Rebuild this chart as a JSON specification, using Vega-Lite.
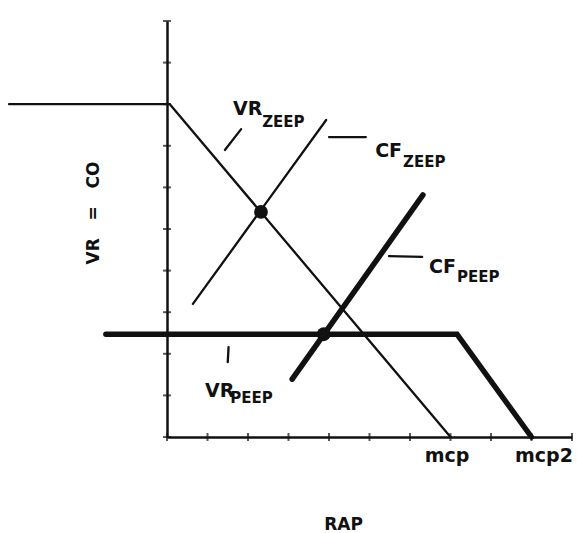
{
  "$schema": "https://vega.github.io/schema/vega-lite/v6.json",
  "autosize": "none",
  "padding": {"left": 167, "top": 21, "right": 5, "bottom": 96},
  "width": 405,
  "height": 416,
  "background": "white",
  "config": {"view": {"stroke": null}, "font": "DejaVu Sans"},
  "datasets": {
    "lines": [
      {"series": "VR_ZEEP", "i": 0, "x": -3.9, "y": 8},
      {"series": "VR_ZEEP", "i": 1, "x": 0.07, "y": 8},
      {"series": "VR_ZEEP", "i": 2, "x": 7, "y": 0},
      {"series": "CF_ZEEP", "i": 0, "x": 0.64, "y": 3.2},
      {"series": "CF_ZEEP", "i": 1, "x": 3.93, "y": 7.62},
      {"series": "VR_PEEP", "i": 0, "x": -1.51, "y": 2.47},
      {"series": "VR_PEEP", "i": 1, "x": 7.16, "y": 2.47},
      {"series": "VR_PEEP", "i": 2, "x": 9, "y": 0},
      {"series": "CF_PEEP", "i": 0, "x": 3.09, "y": 1.39},
      {"series": "CF_PEEP", "i": 1, "x": 6.32, "y": 5.82},
      {"series": "lead_VR_ZEEP", "i": 0, "x": 1.43, "y": 6.9},
      {"series": "lead_VR_ZEEP", "i": 1, "x": 1.83, "y": 7.4},
      {"series": "lead_CF_ZEEP", "i": 0, "x": 4.0, "y": 7.21},
      {"series": "lead_CF_ZEEP", "i": 1, "x": 4.91, "y": 7.21},
      {"series": "lead_CF_PEEP", "i": 0, "x": 5.48, "y": 4.35},
      {"series": "lead_CF_PEEP", "i": 1, "x": 6.3, "y": 4.33},
      {"series": "lead_VR_PEEP", "i": 0, "x": 1.52, "y": 2.16},
      {"series": "lead_VR_PEEP", "i": 1, "x": 1.5, "y": 1.8}
    ],
    "dots": [
      {"x": 2.32, "y": 5.41},
      {"x": 3.87, "y": 2.47}
    ],
    "ticks": [
      {"t": 0}, {"t": 1}, {"t": 2}, {"t": 3}, {"t": 4}, {"t": 5},
      {"t": 6}, {"t": 7}, {"t": 8}, {"t": 9}, {"t": 10}
    ],
    "labels": [
      {"text": "VR", "role": "main", "x": 1.63, "y": 7.74},
      {"text": "ZEEP", "role": "sub", "x": 2.35, "y": 7.45},
      {"text": "CF", "role": "main", "x": 5.14, "y": 6.73},
      {"text": "ZEEP", "role": "sub", "x": 5.83, "y": 6.49},
      {"text": "CF", "role": "main", "x": 6.47, "y": 3.94},
      {"text": "PEEP", "role": "sub", "x": 7.16, "y": 3.73},
      {"text": "VR", "role": "main", "x": 0.94, "y": 0.96},
      {"text": "PEEP", "role": "sub", "x": 1.56, "y": 0.82}
    ]
  },
  "layer": [
    {
      "data": {"name": "ticks"},
      "mark": {"type": "tick", "orient": "vertical", "size": 8, "thickness": 2, "color": "#111"},
      "encoding": {
        "x": {
          "field": "t", "type": "quantitative",
          "scale": {"domain": [0, 10], "nice": false, "zero": false},
          "axis": {
            "values": [7, 9],
            "domain": true, "domainColor": "#111", "domainWidth": 2.5,
            "ticks": false, "grid": false,
            "labelExpr": "datum.value == 7 ? 'mcp' : 'mcp2'",
            "labelFont": "DejaVu Sans", "labelFontWeight": "bold", "labelFontSize": 19,
            "labelColor": "#111", "labelBaseline": "alphabetic", "labelPadding": 24,
            "labelBound": false, "labelOverlap": false, "labelFlush": false,
            "labelOffset": {"condition": {"test": "datum.value == 9", "value": 12}, "value": -4},
            "title": "RAP", "titleFont": "DejaVu Sans", "titleFontWeight": "bold", "titleFontSize": 17,
            "titleColor": "#111", "titleX": 176, "titleY": 92, "titleAlign": "center", "titleBaseline": "alphabetic"
          }
        },
        "y": {
          "datum": 0, "type": "quantitative",
          "scale": {"domain": [0, 10], "nice": false, "zero": false},
          "axis": {
            "domain": true, "domainColor": "#111", "domainWidth": 2.5,
            "ticks": false, "labels": false, "grid": false,
            "title": "VR\u00a0\u00a0\u00a0=\u00a0\u00a0\u00a0CO",
            "titleFont": "DejaVu Sans", "titleFontWeight": "bold", "titleFontSize": 17,
            "titleColor": "#111", "titleX": -69, "titleY": 191.5, "titleAngle": 270,
            "titleAlign": "center", "titleBaseline": "alphabetic"
          }
        }
      }
    },
    {
      "data": {"name": "ticks"},
      "mark": {"type": "tick", "orient": "horizontal", "size": 8, "thickness": 2, "color": "#111"},
      "encoding": {
        "x": {"datum": 0, "type": "quantitative"},
        "y": {"field": "t", "type": "quantitative"}
      }
    },
    {
      "data": {"name": "lines"},
      "transform": [{"filter": {"field": "series", "oneOf": ["VR_ZEEP", "CF_ZEEP", "lead_VR_ZEEP", "lead_CF_ZEEP", "lead_CF_PEEP", "lead_VR_PEEP"]}}],
      "mark": {"type": "line", "color": "#111", "strokeWidth": 2.3, "strokeCap": "round", "strokeJoin": "round"},
      "encoding": {
        "x": {"field": "x", "type": "quantitative"},
        "y": {"field": "y", "type": "quantitative"},
        "detail": {"field": "series"},
        "order": {"field": "i"}
      }
    },
    {
      "data": {"name": "lines"},
      "transform": [{"filter": {"field": "series", "oneOf": ["VR_PEEP", "CF_PEEP"]}}],
      "mark": {"type": "line", "color": "#111", "strokeWidth": 5.5, "strokeCap": "round", "strokeJoin": "miter"},
      "encoding": {
        "x": {"field": "x", "type": "quantitative"},
        "y": {"field": "y", "type": "quantitative"},
        "detail": {"field": "series"},
        "order": {"field": "i"}
      }
    },
    {
      "data": {"name": "dots"},
      "mark": {"type": "point", "filled": true, "color": "#111", "opacity": 1, "size": 190},
      "encoding": {
        "x": {"field": "x", "type": "quantitative"},
        "y": {"field": "y", "type": "quantitative"}
      }
    },
    {
      "data": {"name": "labels"},
      "transform": [{"filter": "datum.role == 'main'"}],
      "mark": {"type": "text", "align": "left", "baseline": "alphabetic", "font": "DejaVu Sans", "fontWeight": "bold", "fontSize": 19, "color": "#111"},
      "encoding": {
        "x": {"field": "x", "type": "quantitative"},
        "y": {"field": "y", "type": "quantitative"},
        "text": {"field": "text"}
      }
    },
    {
      "data": {"name": "labels"},
      "transform": [{"filter": "datum.role == 'sub'"}],
      "mark": {"type": "text", "align": "left", "baseline": "alphabetic", "font": "DejaVu Sans", "fontWeight": "bold", "fontSize": 15, "color": "#111"},
      "encoding": {
        "x": {"field": "x", "type": "quantitative"},
        "y": {"field": "y", "type": "quantitative"},
        "text": {"field": "text"}
      }
    }
  ]
}
